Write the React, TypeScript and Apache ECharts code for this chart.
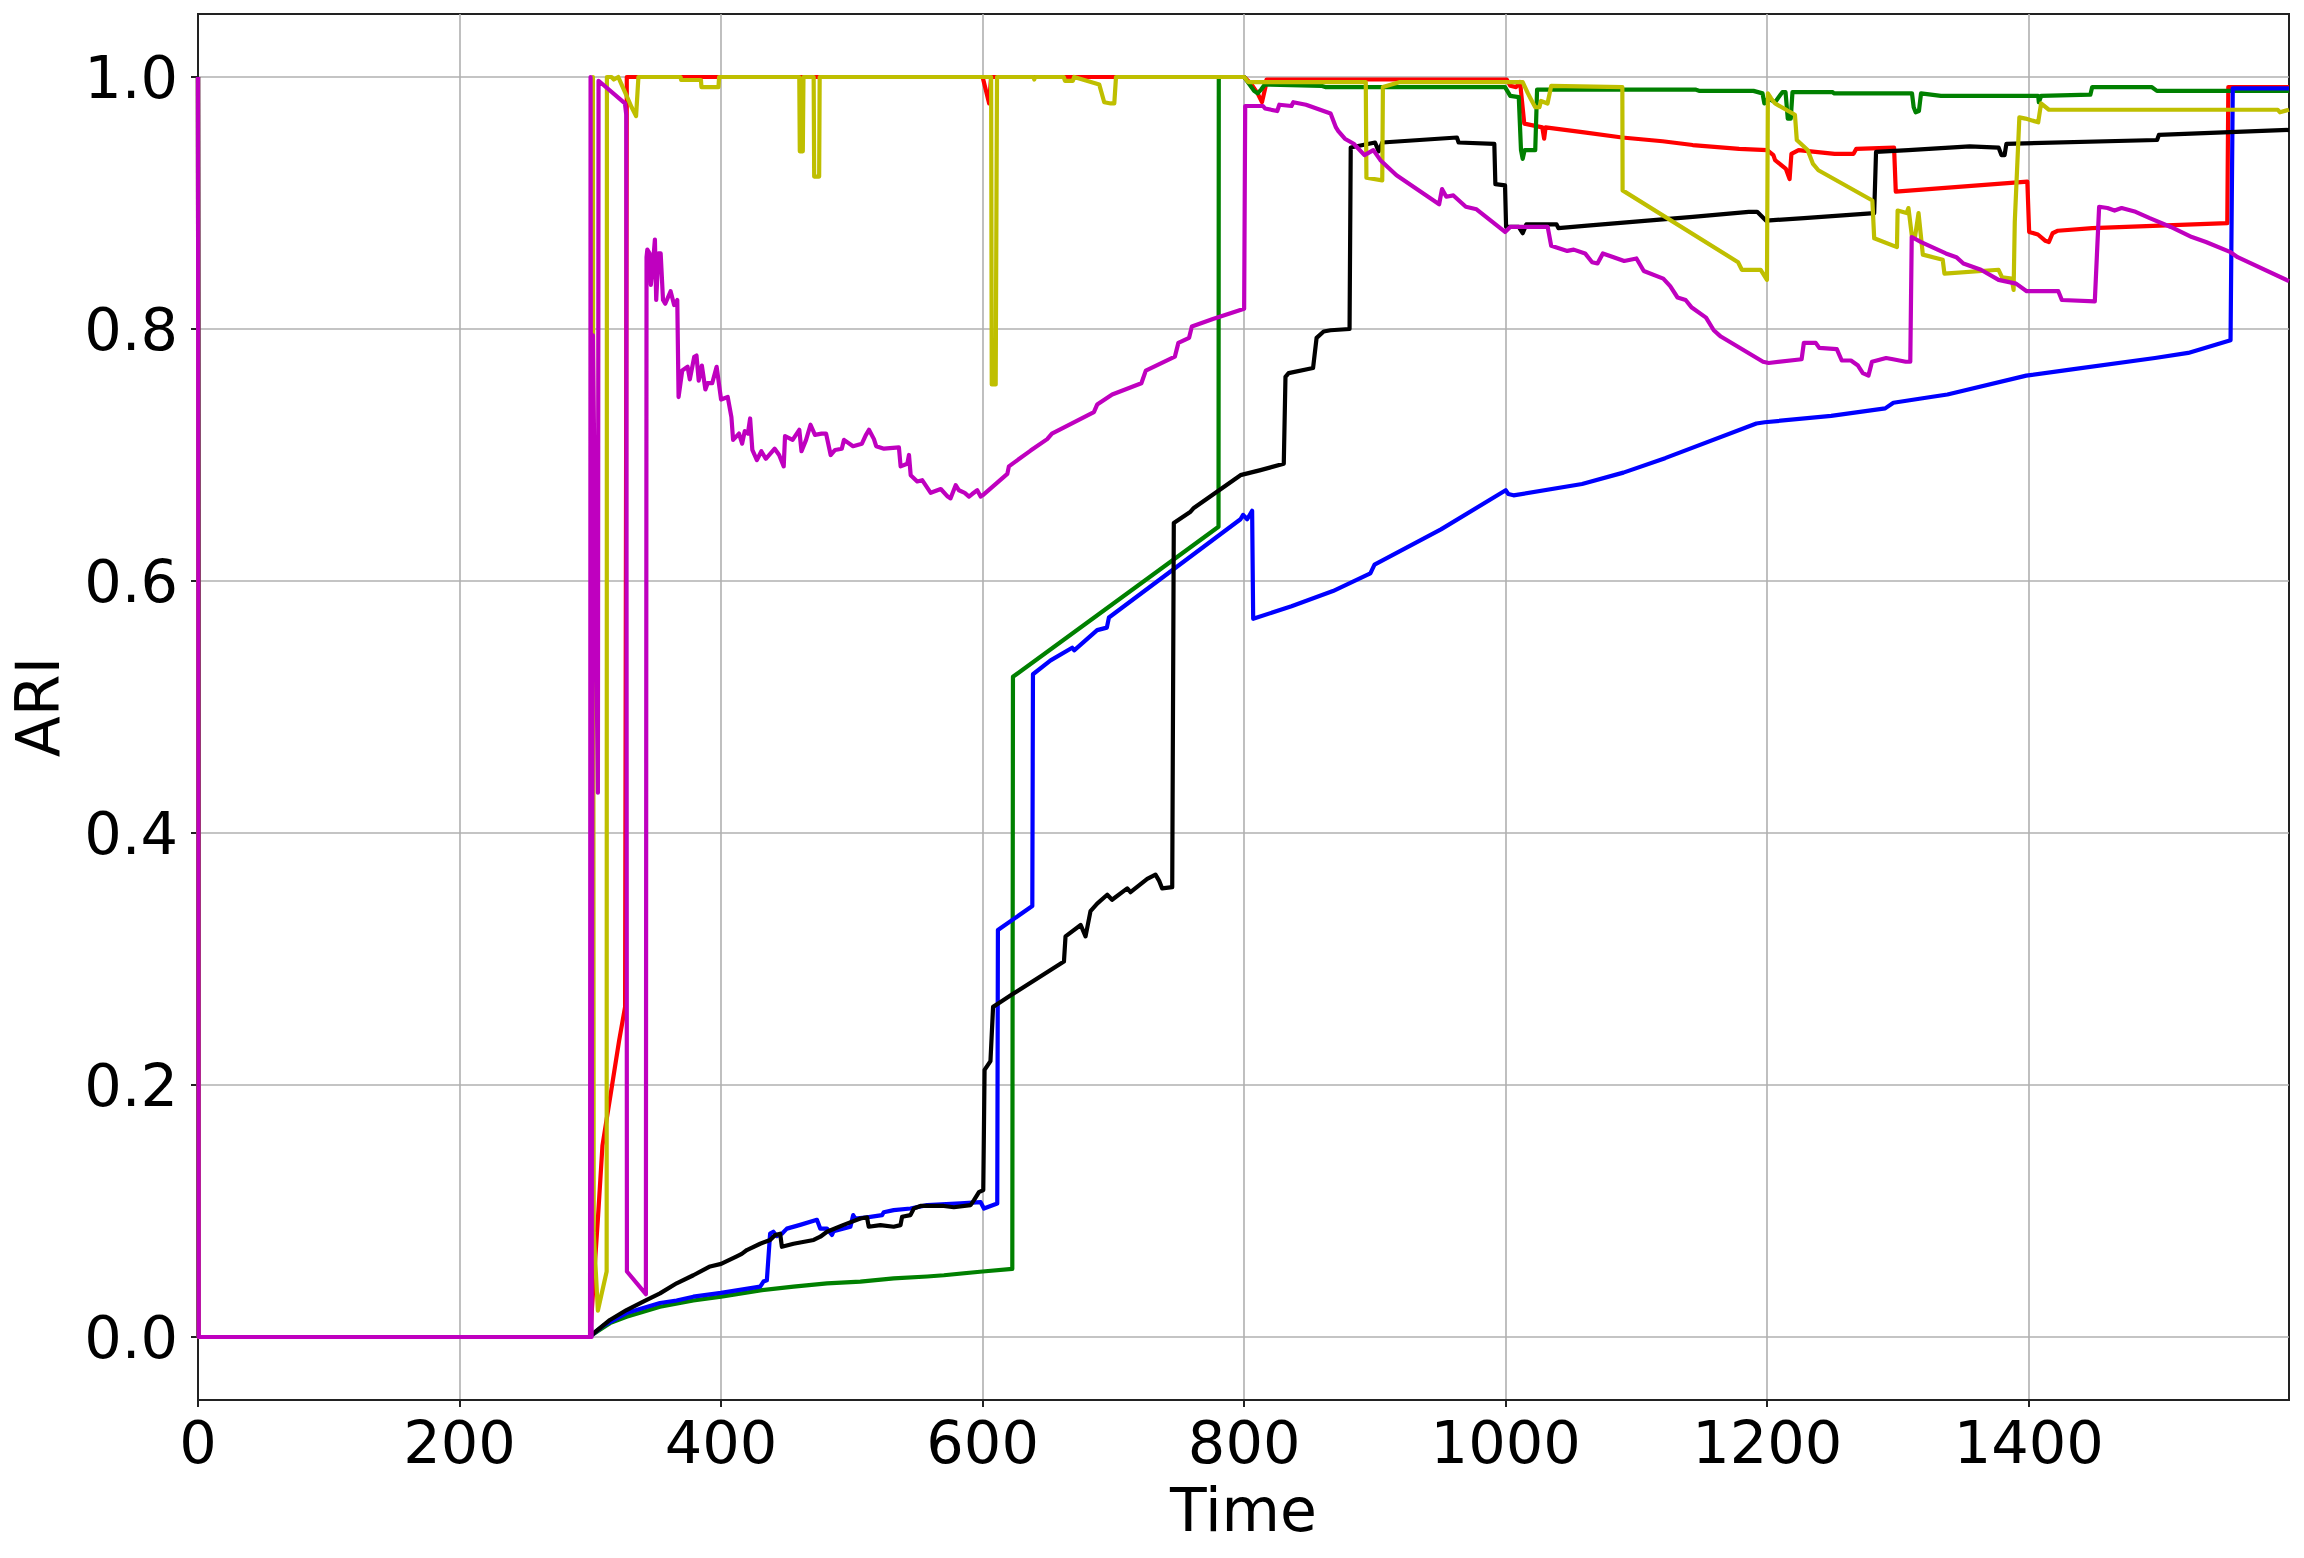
import React, { useEffect, useRef } from "react";
import * as echarts from "echarts";

const TIME_TICKS = [0, 200, 400, 600, 800, 1000, 1200, 1400];
const ARI_TICKS = [0, 0.2, 0.4, 0.6, 0.8, 1.0];

const red: [number, number][] = [
  [0, 1], [0.6, 0], [299.8, 0], [306, 0.097], [309.3, 0.152], [315.6, 0.193], [322, 0.235], [326.6, 0.262], [327.9, 1.0],
  [600, 1.0], [605, 0.979], [606.5, 1.0], [800, 1.0], [805, 0.995], [810.3, 0.987], [813.6, 0.98], [816.3, 0.992], [817.1, 0.998],
  [1000.8, 0.998], [1003.5, 0.993], [1008, 0.992], [1011, 0.996], [1014.2, 0.963], [1028, 0.96], [1029.4, 0.951], [1030.5, 0.96],
  [1060, 0.956], [1089, 0.952], [1120, 0.949], [1143, 0.946], [1178.5, 0.943], [1200, 0.942], [1204.7, 0.938], [1206, 0.934],
  [1214.3, 0.927], [1217.1, 0.919], [1218.5, 0.939], [1224, 0.942], [1251.5, 0.939], [1266, 0.939], [1268.1, 0.943], [1297, 0.944],
  [1298.3, 0.909], [1398.9, 0.917], [1400.3, 0.877], [1407, 0.875], [1412.7, 0.87], [1415.4, 0.869], [1418.2, 0.876], [1422.3, 0.878],
  [1448.5, 0.88], [1551.8, 0.884], [1552.6, 0.992], [1599, 0.992],
];

const green: [number, number][] = [
  [0, 1], [0.6, 0], [299.1, 0], [307, 0.0055], [315, 0.011], [327.7, 0.016], [353.3, 0.024], [378.8, 0.029], [400, 0.032],
  [429.9, 0.037], [455.4, 0.04], [481, 0.0426], [506.5, 0.044], [532, 0.0465], [557.6, 0.048], [570.4, 0.049], [600, 0.052],
  [622.7, 0.054], [623.2, 0.524], [780.4, 0.643], [780.6, 1.0], [800, 1.0], [807.6, 0.989], [810.3, 0.987], [813, 0.99],
  [815.8, 0.994], [859, 0.993], [862, 0.992], [999.5, 0.992], [1003.5, 0.985], [1010, 0.984], [1011.7, 0.942], [1013, 0.935],
  [1014.5, 0.942], [1022.6, 0.942], [1024, 0.99], [1145, 0.99], [1147.8, 0.989], [1189.5, 0.989], [1196.4, 0.987], [1197.8, 0.979],
  [1200.5, 0.983], [1206, 0.98], [1211.6, 0.988], [1214, 0.988], [1215.7, 0.967], [1218, 0.967], [1219.3, 0.988], [1250.1, 0.988],
  [1251, 0.987], [1310.7, 0.987], [1312, 0.976], [1313.5, 0.972], [1316, 0.973], [1317.6, 0.987], [1332.8, 0.985], [1407.2, 0.985],
  [1407.7, 0.98], [1409.5, 0.985], [1447.1, 0.986], [1448.5, 0.992], [1493.9, 0.992], [1498, 0.989], [1599, 0.989],
];

const blue: [number, number][] = [
  [0, 1], [0.6, 0], [299.1, 0], [310, 0.009], [327.7, 0.019], [353.3, 0.027], [366, 0.029], [378.8, 0.032], [400, 0.035],
  [429.9, 0.04], [432.4, 0.044], [435, 0.045], [437.5, 0.082], [440, 0.0835], [442.7, 0.08], [446.5, 0.082], [450.3, 0.086],
  [460.5, 0.089], [473.3, 0.093], [475.9, 0.086], [481, 0.086], [484.8, 0.081], [486, 0.084], [498.9, 0.0875], [501, 0.0967],
  [502.7, 0.094], [511.6, 0.095], [523.1, 0.0967], [524.4, 0.099], [532, 0.1007], [544.8, 0.102], [557.6, 0.1047], [583.1, 0.106],
  [598.5, 0.107], [601, 0.102], [611.2, 0.106], [611.7, 0.323], [638, 0.342], [638.5, 0.526], [652, 0.537], [668.5, 0.547],
  [670, 0.545], [687.6, 0.561], [695, 0.563], [696.6, 0.571], [797.2, 0.649], [799.2, 0.6525], [802.3, 0.649], [806.1, 0.6557],
  [806.9, 0.57], [836.2, 0.58], [867.9, 0.592], [896.5, 0.606], [899.7, 0.613], [950.5, 0.641], [1000, 0.672], [1002, 0.669],
  [1006, 0.668], [1058.4, 0.677], [1090, 0.686], [1121.9, 0.6975], [1191.7, 0.725], [1198.1, 0.726], [1248.9, 0.731],
  [1290.2, 0.737], [1296.5, 0.7415], [1325.1, 0.746], [1337.8, 0.748], [1398.1, 0.763], [1433, 0.768], [1496.5, 0.777],
  [1521.9, 0.781], [1554.3, 0.791], [1556, 0.991], [1599, 0.991],
];

const black: [number, number][] = [
  [0, 1], [0.6, 0], [299.1, 0], [315, 0.0135], [327.7, 0.0214], [340.5, 0.028], [353.3, 0.0346], [366, 0.0426], [378.8, 0.049],
  [391.6, 0.056], [400, 0.058], [412, 0.064], [415.8, 0.066], [419.7, 0.069], [429.9, 0.074], [437.5, 0.077], [441.4, 0.081],
  [445.2, 0.082], [446.5, 0.0716], [455.4, 0.074], [470.8, 0.077], [475.9, 0.0796], [481, 0.0835], [493.7, 0.089], [506.5, 0.094],
  [511.6, 0.095], [512.9, 0.0875], [521.8, 0.0888], [532, 0.0875], [537.2, 0.0888], [538.4, 0.0954], [544.8, 0.0967],
  [547.4, 0.102], [552.5, 0.104], [570.4, 0.104], [578, 0.103], [590.8, 0.1047], [593.4, 0.1086], [597.2, 0.115], [600.5, 0.1166],
  [601.5, 0.212], [606, 0.219], [608, 0.262], [614, 0.266], [622.7, 0.272], [662.2, 0.298], [663.4, 0.318], [675, 0.327],
  [678.7, 0.318], [682.5, 0.338], [687.6, 0.344], [695.3, 0.351], [699, 0.347], [710.6, 0.356], [713.1, 0.353], [725.9, 0.3636],
  [732.2, 0.367], [735, 0.362], [737.3, 0.356], [745, 0.357], [746.2, 0.646], [759, 0.655], [761.5, 0.658], [797.2, 0.684],
  [812.5, 0.688], [830.3, 0.693], [831.6, 0.762], [834, 0.765], [852.7, 0.769], [855.4, 0.793], [860.8, 0.798], [866.1, 0.799],
  [880.6, 0.8], [881.5, 0.944], [900.1, 0.948], [902.9, 0.941], [905.6, 0.948], [962.7, 0.952], [964, 0.948], [991.3, 0.947],
  [992.1, 0.915], [999.5, 0.914], [1000.3, 0.881], [1010, 0.881], [1013, 0.876], [1015.8, 0.883], [1038.9, 0.883], [1040.3, 0.88],
  [1062.4, 0.882], [1143, 0.889], [1185.9, 0.893], [1192.3, 0.893], [1199.2, 0.886], [1228.1, 0.888], [1281.8, 0.892],
  [1283.2, 0.9405], [1308, 0.942], [1354.8, 0.945], [1376.9, 0.944], [1379.1, 0.938], [1381.5, 0.938], [1382.9, 0.947],
  [1498.1, 0.95], [1499.5, 0.954], [1599, 0.958],
];

const yellow: [number, number][] = [
  [0, 1], [0.6, 0], [300, 0], [302, 1.0], [302.6, 0.083], [305.8, 0.021], [312.5, 0.052], [312.7, 1.0], [316.2, 1.0], [318, 0.998],
  [321.4, 1.0], [323.1, 0.996], [326.5, 0.988], [331.6, 0.976], [335, 0.969], [336.8, 1.0], [369, 1.0], [369.5, 0.9976],
  [384.6, 0.9976], [385, 0.992], [398, 0.992], [398.5, 1.0], [459.8, 1.0], [460.2, 0.941], [462.5, 0.941], [463, 1.0],
  [470.8, 1.0], [471.2, 0.921], [475, 0.921], [475.4, 1.0], [606.5, 1.0], [607, 0.756], [610, 0.756], [611, 1.0], [639, 1.0],
  [639.5, 0.998], [640, 1.0], [662, 1.0], [663, 0.997], [669, 0.997], [670, 1.0], [689.2, 0.994], [693, 0.98], [698, 0.979],
  [700.7, 0.979], [702, 1.0], [800, 1.0], [803, 0.996], [893, 0.996], [893.5, 0.92], [905.6, 0.918], [906.1, 0.992],
  [919.2, 0.996], [1011, 0.996], [1013, 0.996], [1017, 0.987], [1019, 0.983], [1022.6, 0.976], [1025.8, 0.976], [1027, 0.981],
  [1032, 0.979], [1034.8, 0.993], [1089.2, 0.992], [1089.4, 0.91], [1177.7, 0.853], [1180.6, 0.847], [1195, 0.847],
  [1199.8, 0.839], [1200.5, 0.987], [1203, 0.983], [1206, 0.979], [1221.2, 0.97], [1222.6, 0.95], [1230.9, 0.942], [1235, 0.931],
  [1239.1, 0.926], [1280.4, 0.902], [1281.8, 0.872], [1299.2, 0.865], [1299.7, 0.894], [1306.6, 0.892], [1308, 0.896],
  [1310.7, 0.873], [1313, 0.873], [1315.7, 0.892], [1319, 0.859], [1334.2, 0.855], [1335.5, 0.844], [1376.9, 0.847],
  [1379.6, 0.841], [1387, 0.84], [1388.4, 0.831], [1389.3, 0.885], [1392.8, 0.968], [1397.5, 0.967], [1407.2, 0.964],
  [1409.4, 0.979], [1415.4, 0.974], [1590.4, 0.974], [1592, 0.972], [1599, 0.974],
];

const magenta: [number, number][] = [
  [0, 1], [0.6, 0], [299.8, 0], [300.2, 1.0], [301, 0.0], [302, 0.795], [305.8, 0.432], [306.3, 0.997], [326.5, 0.979],
  [327.5, 0.97], [328, 0.052], [342.5, 0.034], [343, 0.857], [343.6, 0.863], [345.3, 0.86], [346.3, 0.835], [347.7, 0.849],
  [349.4, 0.871], [350.4, 0.823], [352.1, 0.86], [353.8, 0.86], [355.6, 0.823], [357.3, 0.82], [361.4, 0.83], [364.1, 0.819],
  [366.5, 0.823], [367.5, 0.746], [370.3, 0.767], [374.4, 0.77], [376.1, 0.76], [379.5, 0.778], [381.2, 0.779], [382.9, 0.759],
  [385.3, 0.771], [388, 0.752], [389.7, 0.757], [393.2, 0.757], [396.6, 0.77], [400, 0.744], [405.1, 0.746], [407.9, 0.73],
  [409.2, 0.712], [413.7, 0.717], [416.1, 0.709], [418.1, 0.719], [420.5, 0.717], [422.2, 0.729], [423.9, 0.704], [427.4, 0.696],
  [430.8, 0.703], [434.2, 0.697], [441, 0.705], [444.4, 0.7], [447.9, 0.691], [448.9, 0.715], [454.7, 0.712], [459.8, 0.72],
  [461.5, 0.703], [465, 0.712], [468.4, 0.724], [471.8, 0.716], [476.9, 0.717], [480.3, 0.717], [483.8, 0.7], [487.2, 0.704],
  [492.3, 0.705], [494, 0.712], [500.9, 0.707], [507.7, 0.709], [510.6, 0.7156], [513.1, 0.72], [516.9, 0.7126], [518.6, 0.707],
  [524.6, 0.705], [536, 0.706], [537.3, 0.691], [542.4, 0.693], [543.7, 0.7], [545, 0.684], [550, 0.679], [553.8, 0.68],
  [560.3, 0.67], [568, 0.673], [573.3, 0.667], [575.5, 0.6656], [579.4, 0.676], [581.9, 0.672], [586.3, 0.67], [589.6, 0.667],
  [592, 0.669], [595.9, 0.672], [598.5, 0.667], [600, 0.668], [618.9, 0.685], [620.1, 0.691], [636.7, 0.7035], [649.4, 0.7126],
  [653, 0.717], [685.1, 0.734], [687.6, 0.74], [699.1, 0.748], [721.4, 0.757], [724.8, 0.767], [747, 0.778], [749.7, 0.789],
  [757.9, 0.793], [760, 0.802], [776.1, 0.808], [800, 0.816], [800.8, 0.977], [814.4, 0.977], [816, 0.975], [825.3, 0.973],
  [826.9, 0.978], [836.2, 0.977], [837.6, 0.98], [847.3, 0.978], [866.1, 0.971], [870.2, 0.96], [872, 0.957], [877, 0.951],
  [883.8, 0.947], [892, 0.938], [898.8, 0.942], [904.2, 0.934], [916.5, 0.922], [949.1, 0.899], [951.3, 0.911], [954.6, 0.905],
  [960, 0.906], [969.5, 0.897], [977.7, 0.895], [999.5, 0.877], [1003.5, 0.881], [1032.1, 0.881], [1034.8, 0.866],
  [1047.1, 0.862], [1052, 0.863], [1060.7, 0.86], [1066.1, 0.853], [1070.2, 0.852], [1074.3, 0.86], [1090.6, 0.854],
  [1100, 0.856], [1105.6, 0.846], [1120.5, 0.84], [1125.8, 0.834], [1131.4, 0.825], [1137.6, 0.823], [1142.3, 0.817],
  [1153.2, 0.809], [1159.1, 0.799], [1164.5, 0.794], [1196.8, 0.774], [1201.1, 0.773], [1226.3, 0.776], [1228, 0.789],
  [1237.1, 0.789], [1239.8, 0.785], [1253.2, 0.784], [1257, 0.775], [1264, 0.775], [1269.4, 0.771], [1273.1, 0.765],
  [1277.4, 0.763], [1280.1, 0.774], [1290.9, 0.777], [1296.2, 0.776], [1305.9, 0.774], [1309.4, 0.774], [1310.5, 0.873],
  [1317.7, 0.869], [1336.6, 0.86], [1344.6, 0.857], [1350, 0.852], [1363.4, 0.847], [1376.9, 0.839], [1390.3, 0.836],
  [1398.4, 0.83], [1422.6, 0.83], [1425.3, 0.823], [1450.5, 0.822], [1453.8, 0.897], [1460.2, 0.896], [1465.6, 0.894],
  [1471, 0.896], [1481.7, 0.893], [1492.5, 0.888], [1508.6, 0.881], [1524.7, 0.873], [1535.5, 0.869], [1554.3, 0.861],
  [1559.7, 0.857], [1599, 0.838],
];

const SERIES: { name: string; color: string; data: [number, number][] }[] = [
  { name: "r", color: "#ff0000", data: red },
  { name: "g", color: "#008000", data: green },
  { name: "b", color: "#0000ff", data: blue },
  { name: "k", color: "#000000", data: black },
  { name: "y", color: "#bfbf00", data: yellow },
  { name: "m", color: "#bf00bf", data: magenta },
];

const FONT = "DejaVu Sans";

export default function App() {
  const ref = useRef<HTMLDivElement>(null);
  useEffect(() => {
    if (!ref.current) return;
    const chart = echarts.init(ref.current, null, { renderer: "svg" });
    chart.setOption({
      animation: false,
      backgroundColor: "#ffffff",
      grid: {
        left: 197,
        top: 14,
        width: 2092,
        height: 1386,
        show: true,
        borderColor: "#222222",
        borderWidth: 2,
        backgroundColor: "transparent",
        containLabel: false,
      },
      xAxis: {
        type: "value",
        min: 0,
        max: 1599,
        name: "Time",
        nameLocation: "middle",
        nameGap: 80,
        nameTextStyle: { fontFamily: FONT, fontSize: 60, color: "#000" },
        axisLine: { show: true, onZero: false, lineStyle: { color: "#222222", width: 2 } },
        axisTick: { show: true, length: 7, customValues: TIME_TICKS, lineStyle: { color: "#222222", width: 2 } },
        axisLabel: {
          customValues: TIME_TICKS,
          formatter: (v: number) => String(v),
          fontFamily: FONT,
          fontSize: 59,
          color: "#000",
          margin: 13,
        },
        splitLine: { show: true, lineStyle: { color: "#b0b0b0", width: 1.6 } },
      },
      yAxis: {
        type: "value",
        min: -0.05,
        max: 1.05,
        name: "ARI",
        nameLocation: "middle",
        nameGap: 130,
        nameRotate: 90,
        nameTextStyle: { fontFamily: FONT, fontSize: 60, color: "#000" },
        axisLine: { show: true, onZero: false, lineStyle: { color: "#222222", width: 2 } },
        axisTick: { show: true, length: 7, customValues: ARI_TICKS, lineStyle: { color: "#222222", width: 2 } },
        axisLabel: {
          customValues: ARI_TICKS,
          formatter: (v: number) => v.toFixed(1),
          fontFamily: FONT,
          fontSize: 59,
          color: "#000",
          margin: 20,
        },
        splitLine: { show: true, lineStyle: { color: "#b0b0b0", width: 1.6 } },
      },
      series: SERIES.map((s) => ({
        name: s.name,
        type: "line",
        data: s.data,
        showSymbol: false,
        symbol: "none",
        silent: true,
        clip: true,
        lineStyle: { color: s.color, width: 4.2, join: "round" },
        itemStyle: { color: s.color },
      })),
    });
    return () => chart.dispose();
  }, []);
  return (
    <div
      ref={ref}
      style={{ position: "absolute", left: 0, top: 0, width: 2304, height: 1558 }}
    />
  );
}
